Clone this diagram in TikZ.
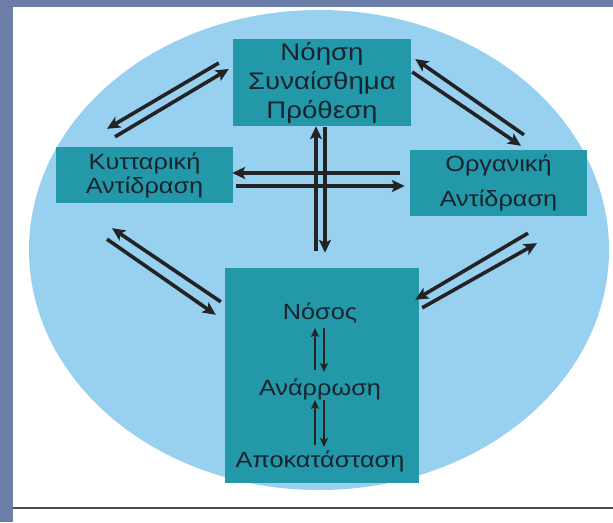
\documentclass[tikz,border=0pt]{standalone}
\usepackage{fontspec}
\setmainfont{Liberation Sans}[FakeStretch=1.15]
\usetikzlibrary{arrows.meta}
\definecolor{frameslate}{RGB}{108,125,168}
\definecolor{ovalblue}{RGB}{152,208,239}
\definecolor{boxteal}{RGB}{34,152,168}
\definecolor{arrowdark}{RGB}{35,35,38}
\definecolor{textdark}{RGB}{25,35,45}
\tikzset{
  kbox/.style   ={rectangle, fill=boxteal, inner sep=0pt, align=center, text=textdark,
                  font=\fontsize{22}{24}\selectfont},
  klabel/.style ={anchor=base, inner sep=0pt, text=textdark, font=\fontsize{22}{24}\selectfont},
  karrow/.style ={-{Stealth[length=13pt, width=12pt, inset=3pt]}, line width=3.6pt, arrowdark},
  ksmall/.style ={-{Stealth[length=9pt, width=8pt, inset=2pt]}, line width=2.8pt, arrowdark},
}
\begin{document}
\begin{tikzpicture}[x=1pt, y=-1pt]
  \useasboundingbox (0,0) rectangle (613,522);
  \fill[white] (0,0) rectangle (613,522);
  \fill[frameslate] (0,0) rectangle (13,522);
  \fill[frameslate] (0,0) rectangle (613,7);
  \fill[ovalblue] (319,250) ellipse [x radius=290, y radius=240];
  \draw[black!70, line width=2pt] (13,508) -- (613,508);

  \node[kbox, minimum width=178pt, minimum height=87pt, font=\fontsize{24}{29}\selectfont]
    (top) at (322,82.5) {Νόηση\\Συναίσθημα\\Πρόθεση};
  \node[kbox, minimum width=177pt, minimum height=56pt] (kyt) at (144.5,175) {Κυτταρική\\Αντίδραση};
  \node[kbox, minimum width=177pt, minimum height=66pt, font=\fontsize{22}{35}\selectfont]
    (org) at (498.5,183) {Οργανική\\Αντίδραση};
  \node[kbox, minimum width=194pt, minimum height=215pt] (nos) at (322,375.5) {};
  \node[klabel] (nosos) at (320,319) {Νόσος};
  \node[klabel] (anarr) at (320,395) {Ανάρρωση};
  \node[klabel] (apok)  at (320,467) {Αποκατάσταση};

  \draw[karrow] ([shift={(-14,-19.5)}]top.west) -- ([shift={(-37.5,-18)}]kyt.north);
  \draw[karrow] ([shift={(-29.5,-10)}]kyt.north) -- ([shift={(-4,-13.5)}]top.west);
  \draw[karrow] ([shift={(25.5,-15)}]org.north) -- ([shift={(4,-23.5)}]top.east);
  \draw[karrow] ([shift={(1,-10.5)}]top.east) -- ([shift={(22.5,-4)}]org.north);
  \draw[karrow] ([shift={(-4,34)}]nos.north west) -- ([shift={(-32.5,25)}]kyt.south);
  \draw[karrow] ([shift={(-37.5,36)}]kyt.south) -- ([shift={(-9,47)}]nos.north west);
  \draw[karrow] ([shift={(29.5,17)}]org.south) -- ([shift={(-4,32)}]nos.north east);
  \draw[karrow] ([shift={(3,40)}]nos.north east) -- ([shift={(38.5,27)}]org.south);
  \draw[karrow] ([shift={(-10,-10)}]org.west) -- ([shift={(-1,-2)}]kyt.east);
  \draw[karrow] ([shift={(3,11)}]kyt.east) -- ([shift={(-5,3)}]org.west);
  \draw[karrow] ([shift={(-6,-17)}]nos.north) -- ([shift={(-6,0)}]top.south);
  \draw[karrow] ([shift={(3,1)}]top.south) -- ([shift={(3,-15)}]nos.north);

  \draw[ksmall] ([shift={(-5,-25)}]anarr.base) -- ([shift={(-5,9)}]nosos.base);
  \draw[ksmall] ([shift={(4,9)}]nosos.base) -- ([shift={(4,-23)}]anarr.base);
  \draw[ksmall] ([shift={(-5,-22)}]apok.base) -- ([shift={(-5,5)}]anarr.base);
  \draw[ksmall] ([shift={(4,5)}]anarr.base) -- ([shift={(4,-20)}]apok.base);
\end{tikzpicture}
\end{document}
